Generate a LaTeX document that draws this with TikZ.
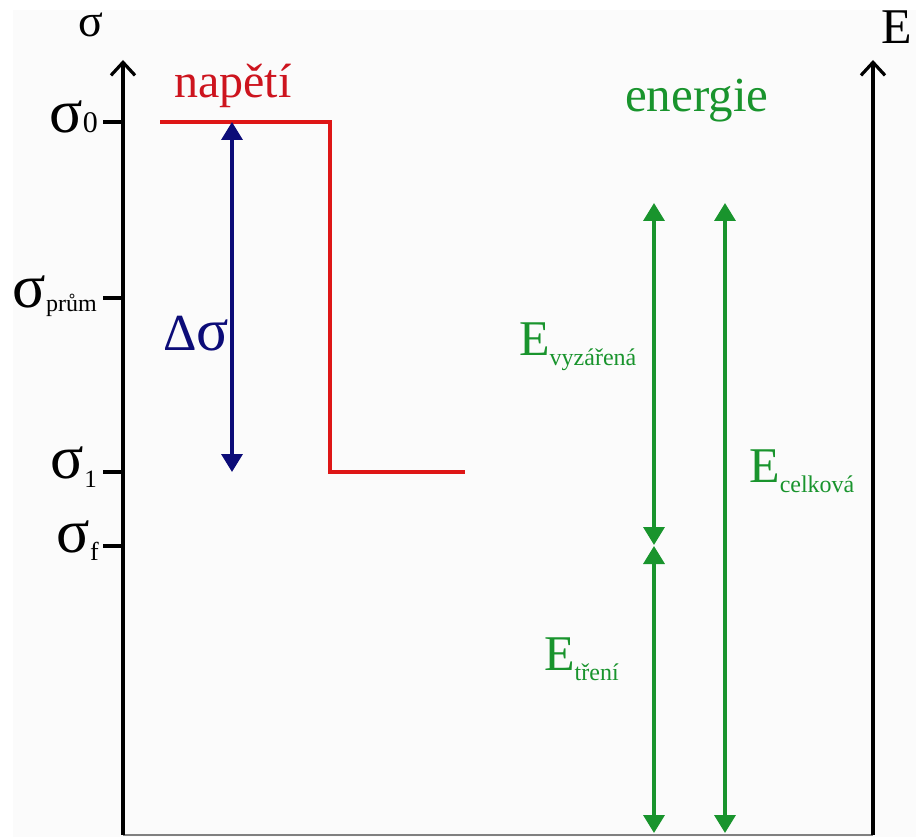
\documentclass[tikz,border=0pt]{standalone}
\usepackage{fontspec}
\setmainfont{Liberation Serif}
\usetikzlibrary{arrows.meta}
\definecolor{bgc}{RGB}{251,251,251}
\definecolor{redl}{RGB}{222,22,22}
\definecolor{redt}{RGB}{205,20,30}
\definecolor{navyc}{RGB}{12,12,120}
\definecolor{greenc}{RGB}{25,148,45}
\newcommand\fs[1]{\fontsize{#1}{#1}\selectfont}
\newcommand\lbl[5]{\fs{#1}#2\raisebox{-#4pt}{\fs{#5}#3}}
\tikzset{
  axis/.style={line width=3.5pt, -{Straight Barb[length=13pt,width=24pt,line width=3.2pt]}},
  tick/.style={line width=3.5pt},
  txt/.style={inner sep=0pt, anchor=base west},
  sig/.style={inner sep=0pt, anchor=base east},
  redline/.style={draw=redl, line width=3.5pt},
  bluearr/.style={draw=navyc, line width=3.5pt, {Triangle[length=18pt,width=21pt]}-{Triangle[length=18pt,width=21pt]}},
  greenarr/.style={draw=greenc, line width=3.5pt, {Triangle[length=18pt,width=21pt]}-{Triangle[length=18pt,width=21pt]}},
}
\begin{document}
\begin{tikzpicture}[x=1pt,y=-1pt]
\useasboundingbox (0,0) rectangle (916,837);
\fill[white] (0,0) rectangle (916,837);
\fill[bgc] (13,10) rectangle (916,837);
% axes
\coordinate (sb) at (123,835);
\coordinate (st) at (123,60);
\coordinate (eb) at (873,835);
\coordinate (et) at (873,60);
\draw[gray, line width=1.5pt] (sb) -- (eb);
\draw[axis] (sb) -- (st);
\draw[axis] (eb) -- (et);
\node[txt] (sigax) at (78,37) {\fs{46}σ};
\node[txt] (eax) at (881,44) {\fs{50}E};
% ticks
\coordinate (t0) at (103,122);   \coordinate (a0) at (123,122);
\coordinate (tp) at (103,298);   \coordinate (ap) at (123,298);
\coordinate (t1) at (103,472);   \coordinate (a1) at (123,472);
\coordinate (tf) at (103,546);   \coordinate (af) at (123,546);
\draw[tick] (t0) -- (a0);
\draw[tick] (tp) -- (ap);
\draw[tick] (t1) -- (a1);
\draw[tick] (tf) -- (af);
\node[sig] (s0) at (98,133) {\lbl{62}{σ}{0}{0}{30}};
\node[sig] (sp) at (97,307) {\lbl{62}{σ}{prům}{5}{24}};
\node[sig] (s1) at (97,478) {\lbl{62}{σ}{1}{9}{25}};
\node[sig] (sf) at (99,552) {\lbl{62}{σ}{f}{8}{26}};
% stress
\node[txt, text=redt] (nap) at (174,98) {\fs{48}napětí};
\coordinate (r0) at (160,122);
\coordinate (r1) at (330,122);
\coordinate (r2) at (330,472);
\coordinate (r3) at (465,472);
\draw[redline] (r0) -- (r1) -- (r2) -- (r3);
\coordinate (b0) at (232,122);
\coordinate (b1) at (232,472);
\draw[bluearr] (b0) -- (b1);
\node[txt, text=navyc] (dsig) at (163,350) {\fs{52}Δ\fs{60}σ};
% energy
\node[txt, text=greenc] (en) at (625,112) {\fs{49}energie};
\coordinate (g1t) at (654,203);
\coordinate (g1m) at (654,545);
\coordinate (g2m) at (654,546);
\coordinate (g1b) at (654,833);
\coordinate (g3t) at (725,203);
\coordinate (g3b) at (725,833);
\draw[greenarr] (g1t) -- (g1m);
\draw[greenarr] (g2m) -- (g1b);
\draw[greenarr] (g3t) -- (g3b);
\node[txt, text=greenc] (evyz) at (519,355) {\lbl{50}{E}{vyzářená}{10}{24}};
\node[txt, text=greenc] (ecel) at (749,482) {\lbl{50}{E}{celková}{10}{24}};
\node[txt, text=greenc] (etr) at (544,670) {\lbl{50}{E}{tření}{10}{24}};
\end{tikzpicture}
\end{document}
